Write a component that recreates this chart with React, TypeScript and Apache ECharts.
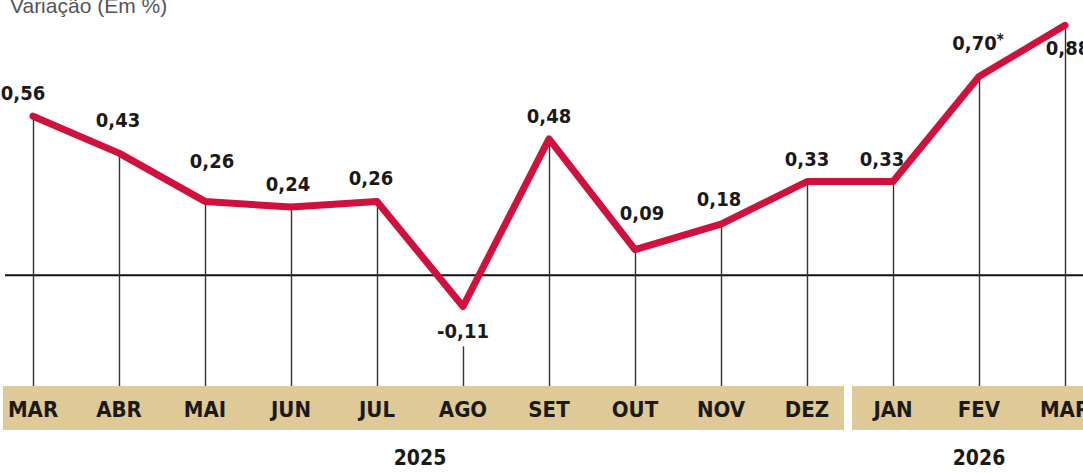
import React, { useEffect, useRef } from 'react';
import * as echarts from 'echarts';

const months = ['MAR', 'ABR', 'MAI', 'JUN', 'JUL', 'AGO', 'SET', 'OUT', 'NOV', 'DEZ', 'JAN', 'FEV', 'MAR'];
const values = [0.56, 0.43, 0.26, 0.24, 0.26, -0.11, 0.48, 0.09, 0.18, 0.33, 0.33, 0.7, 0.88];
const notes = ['', '', '', '', '', '', '', '', '', '', '', '*', ''];
const years = ['2025', '2026'];
const yearSpans = [[0, 9], [10, 12]];
const title = 'Variação (Em %)';

// label layout tweaks: [position, dx, dy]
const labelLayout: [string, number, number][] = [
  ['top', -10, -4], ['top', -1, -14], ['top', 7, -21], ['top', -3, -4], ['top', -6, -4],
  ['bottom', 0, 6], ['top', 0, -4], ['top', 7, -18], ['top', -2, -6], ['top', 0, -4],
  ['top', -11, -4], ['top', -1, -13], ['bottom', 3, 4],
];

const Y_MIN = -0.39;
const Y_MAX = 0.92;
const NEG_LABEL_GAP = 0.14;
const FONT = "'Liberation Sans Narrow', 'DejaVu Sans Condensed', 'Arial Narrow', sans-serif";
const RED = '#d0103d';
const BAND = '#dfc997';
const INK = '#1c1a17';

export default function App() {
  const ref = useRef<HTMLDivElement>(null);
  useEffect(() => {
    document.body.style.margin = '0';
    const chart = echarts.init(ref.current!, null, { renderer: 'svg' });
    const fmt = (v: number) => v.toFixed(2).replace('.', ',');
    chart.setOption({
      animation: false,
      grid: { left: 33, right: 18, top: 14, bottom: 87, outerBoundsMode: 'none', containLabel: false },
      xAxis: {
        type: 'category',
        data: months,
        boundaryGap: false,
        z: 5,
        axisLine: { show: false },
        axisTick: { show: false },
        splitLine: { show: false },
        axisLabel: {
          interval: 0,
          margin: 12,
          fontFamily: FONT,
          fontWeight: 'bold',
          fontSize: 22,
          color: INK,
        },
      },
      yAxis: {
        type: 'value',
        min: Y_MIN,
        max: Y_MAX,
        show: false,
        splitLine: { show: false },
      },
      series: [
        {
          type: 'line',
          data: values,
          symbol: 'none',
          lineStyle: { opacity: 0 },
          z: 1,
          silent: true,
          markLine: {
            symbol: 'none',
            silent: true,
            label: { show: false },
            lineStyle: { color: '#333', width: 1.4, type: 'solid' },
            data: values.map((v, i) => [
              { coord: [i, v < 0 ? v - NEG_LABEL_GAP : v] },
              { coord: [i, Y_MIN] },
            ]),
          },
        },
        {
          type: 'line',
          z: 10,
          symbol: 'circle',
          symbolSize: 2,
          showSymbol: true,
          itemStyle: { color: RED },
          lineStyle: { color: RED, width: 7, cap: 'round', join: 'round' },
          data: values.map((v, i) => ({
            value: v,
            label: {
              show: true,
              position: labelLayout[i][0],
              offset: [labelLayout[i][1], labelLayout[i][2]],
              distance: 8,
              formatter: () => `{v|${fmt(v)}}` + (notes[i] ? `{s|${notes[i]}}` : ''),
              rich: {
                v: { fontFamily: FONT, fontWeight: 'bold', fontSize: 20, color: INK },
                s: { fontFamily: FONT, fontWeight: 'bold', fontSize: 15, color: INK, padding: [0, 0, 7, 0] },
              },
            },
          })),
        },
      ],
    });

    const px = (i: number) => chart.convertToPixel({ xAxisIndex: 0 }, i) as number;
    const y0 = chart.convertToPixel({ yAxisIndex: 0 }, 0) as number;
    const yb = chart.convertToPixel({ yAxisIndex: 0 }, Y_MIN) as number;
    const split = (px(9) + px(10)) / 2;
    const bands = [
      { x: px(0) - 30, w: split - 6 - (px(0) - 30) },
      { x: split + 2, w: 1083 - (split + 2) },
    ];
    chart.setOption({
      graphic: [
        ...bands.map((b) => ({
          type: 'rect',
          z: 0,
          silent: true,
          shape: { x: b.x, y: yb, width: b.w, height: 44 },
          style: { fill: BAND },
        })),
        {
          type: 'line',
          z: 3,
          silent: true,
          shape: { x1: 5, y1: y0, x2: 1083, y2: y0 },
          style: { stroke: '#111', lineWidth: 2 },
        },
        ...years.map((yr, k) => ({
          type: 'text',
          z: 5,
          silent: true,
          x: (px(yearSpans[k][0]) + px(yearSpans[k][1])) / 2,
          y: yb + 72,
          style: {
            text: yr,
            fontFamily: FONT,
            fontWeight: 'bold',
            fontSize: 21,
            fill: INK,
            textAlign: 'center',
            textVerticalAlign: 'middle',
          },
        })),
        {
          type: 'text',
          z: 5,
          silent: true,
          x: 10,
          y: -5,
          style: {
            text: title,
            fontFamily: "'Liberation Sans', Arial, sans-serif",
            fontSize: 21,
            fill: '#555',
            textAlign: 'left',
            textVerticalAlign: 'top',
          },
        },
      ],
    });
    return () => chart.dispose();
  }, []);
  return <div ref={ref} style={{ width: 1083, height: 473 }} />;
}
